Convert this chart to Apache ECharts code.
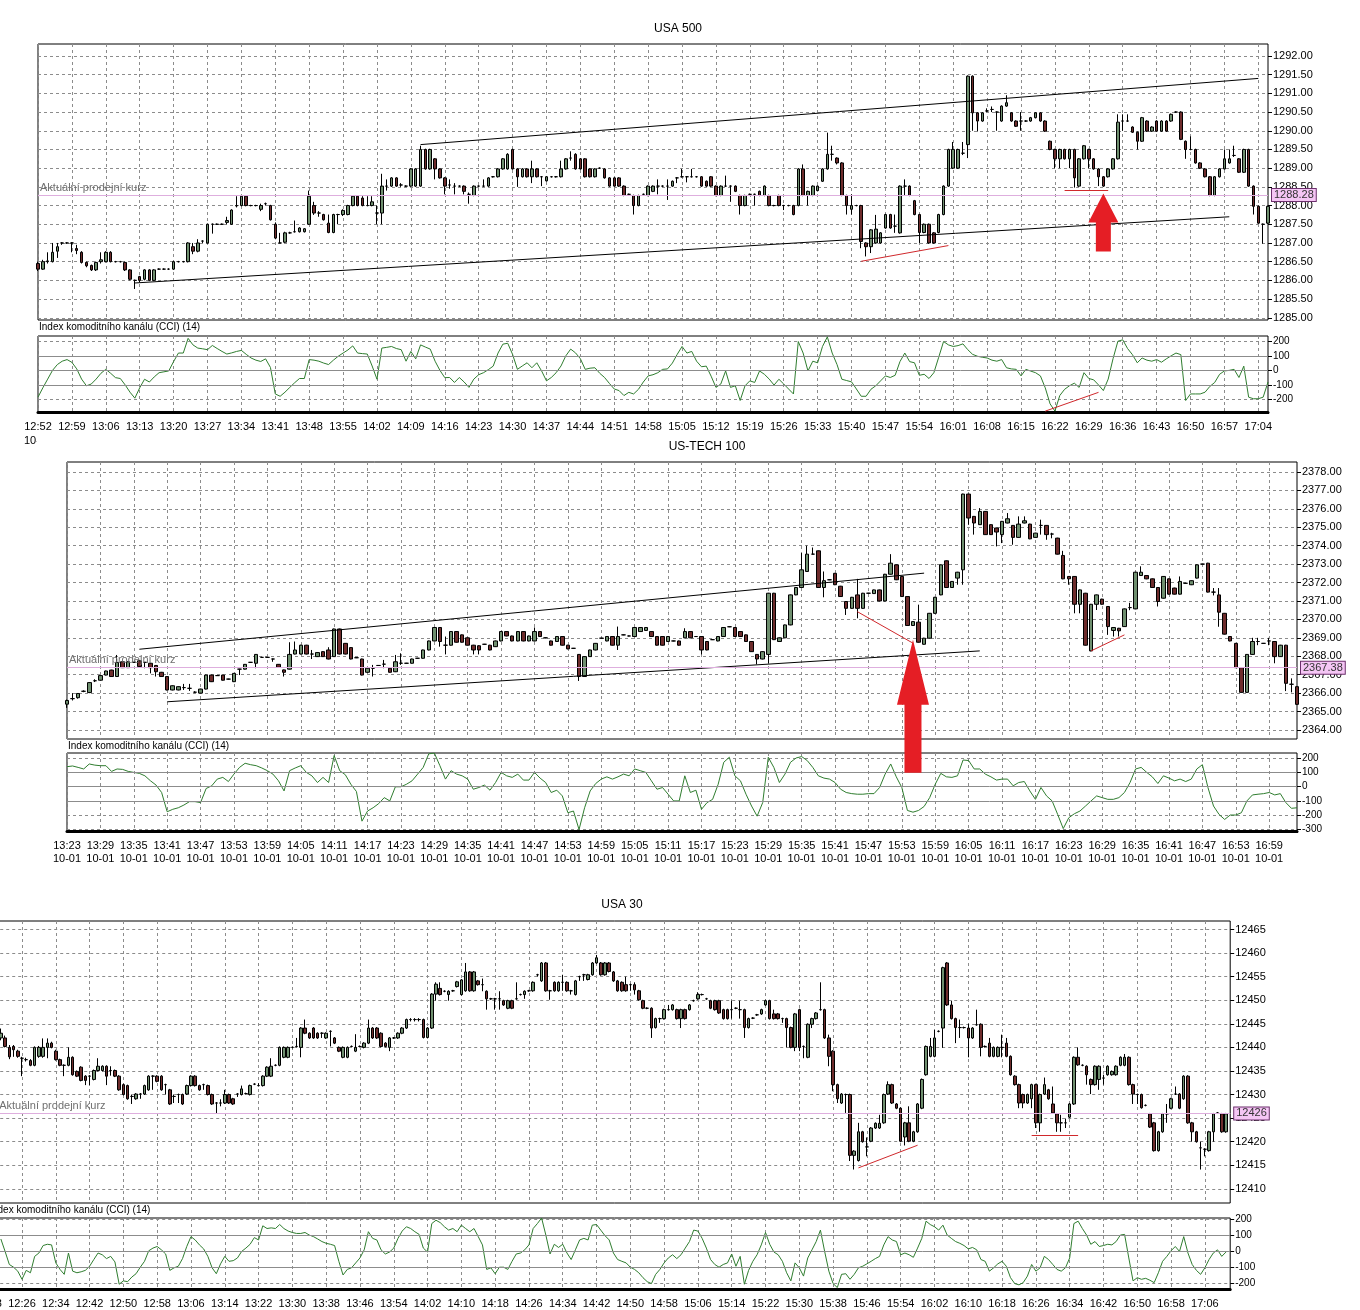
<!DOCTYPE html>
<html>
<head>
<meta charset="utf-8">
<script src="https://cdn.jsdelivr.net/npm/echarts@6/dist/echarts.min.js"></script>
<style>
  html, body { margin: 0; padding: 0; background: #fff; }
  #chart { width: 1360px; height: 1310px; }
</style>
</head>
<body>
<div id="chart"></div>
<script>
// candles are [open, close, low, high], one per minute

// ---- USA 500, 12:52 .. 17:06 ----
const usa500Candles = [
  [1286.45,1286.3,1286.25,1286.5],[1286.3,1286.5,1286.28,1286.55],[1286.5,1286.52,1286.45,1286.75],[1286.5,1286.75,1286.48,1287],[1286.78,1286.9,1286.6,1287],
  [1287,1287,1286.95,1287.02],[1287,1287,1286.98,1287.02],[1287,1287,1286.75,1287.02],[1286.85,1286.8,1286.7,1286.95],[1286.75,1286.48,1286.45,1286.78],
  [1286.48,1286.39,1286.35,1286.5],[1286.4,1286.28,1286.25,1286.42],[1286.28,1286.48,1286.25,1286.5],[1286.5,1286.55,1286.45,1286.75],[1286.5,1286.75,1286.48,1286.78],
  [1286.75,1286.5,1286.48,1286.78],[1286.5,1286.5,1286.48,1286.52],[1286.5,1286.5,1286.48,1286.52],[1286.48,1286.28,1286.25,1286.5],[1286.28,1286.03,1286,1286.3],
  [1286,1286,1285.77,1286.02],[1286.1,1286,1285.95,1286.12],[1286.03,1286.28,1286,1286.3],[1286.28,1286,1285.98,1286.3],[1286,1286.28,1285.98,1286.3],
  [1286.3,1286.3,1286.28,1286.32],[1286.3,1286.3,1286.28,1286.32],[1286.3,1286.3,1286.28,1286.32],[1286.3,1286.5,1286.28,1286.52],[1286.5,1286.5,1286.48,1286.52],
  [1286.5,1286.5,1286.48,1286.52],[1286.5,1287,1286.48,1287.02],[1286.9,1286.78,1286.7,1287],[1286.78,1287,1286.75,1287.1],[1287.05,1287.05,1287,1287.07],
  [1287,1287.5,1286.98,1287.52],[1287.5,1287.5,1287.25,1287.52],[1287.5,1287.5,1287.48,1287.52],[1287.5,1287.5,1287.48,1287.52],[1287.55,1287.6,1287.5,1287.7],
  [1287.5,1287.88,1287.48,1287.9],[1288,1287.99,1287.95,1288.25],[1288,1288.25,1287.98,1288.27],[1288.25,1288,1287.98,1288.27],[1288,1288,1287.98,1288.02],
  [1288,1288,1287.98,1288.02],[1287.9,1288,1287.85,1288.05],[1288.05,1288.05,1288,1288.08],[1288,1287.62,1287.6,1288.02],[1287.5,1287.13,1287.1,1287.55],
  [1287,1287,1287,1287.27],[1287.02,1287.27,1287,1287.3],[1287.27,1287.27,1287.25,1287.3],[1287.3,1287.3,1287.28,1287.6],[1287.3,1287.4,1287.28,1287.42],
  [1287.3,1287.38,1287.28,1287.4],[1287.5,1288.25,1287.48,1288.4],[1288,1287.8,1287.75,1288.1],[1287.8,1287.8,1287.7,1287.85],[1287.76,1287.62,1287.6,1287.78],
  [1287.53,1287.28,1287.26,1287.76],[1287.28,1287.76,1287.26,1287.78],[1287.76,1287.76,1287.5,1287.78],[1287.76,1287.87,1287.72,1287.9],[1287.76,1288,1287.74,1288.02],
  [1288,1288.25,1287.98,1288.27],[1288.25,1288,1287.98,1288.27],[1288.2,1288,1287.98,1288.25],[1288,1288,1287.98,1288.25],[1288,1288.1,1287.98,1288.25],
  [1287.8,1287.8,1287.5,1288],[1287.8,1288.52,1287.5,1288.85],[1288.52,1288.52,1288.4,1288.7],[1288.52,1288.74,1288.5,1288.76],[1288.74,1288.52,1288.5,1288.76],
  [1288.55,1288.55,1288.5,1288.6],[1288.52,1288.52,1288.5,1288.54],[1288.52,1288.98,1288.5,1289],[1288.52,1288.98,1288.5,1289],[1288.52,1289.5,1288.5,1289.6],
  [1289.5,1288.98,1288.96,1289.52],[1288.98,1289.5,1288.96,1289.52],[1289.25,1288.98,1288.7,1289.27],[1288.98,1288.74,1288.72,1289],[1288.74,1288.52,1288.3,1288.76],
  [1288.55,1288.55,1288.45,1288.7],[1288.52,1288.52,1288.3,1288.6],[1288.52,1288.52,1288.5,1288.54],[1288.52,1288.38,1288.3,1288.54],[1288.3,1288.3,1288.05,1288.35],
  [1288.27,1288.52,1288.25,1288.54],[1288.52,1288.52,1288.5,1288.54],[1288.52,1288.52,1288.5,1288.7],[1288.52,1288.74,1288.5,1288.76],[1288.77,1288.77,1288.75,1288.79],
  [1288.77,1288.98,1288.75,1289],[1288.98,1289.25,1288.96,1289.27],[1288.98,1289.37,1288.96,1289.4],[1289.5,1288.98,1288.96,1289.52],[1288.98,1288.77,1288.5,1289],
  [1288.77,1288.98,1288.75,1289],[1288.98,1288.77,1288.75,1289],[1288.77,1288.98,1288.6,1289.2],[1288.98,1288.77,1288.75,1289],[1288.77,1288.77,1288.52,1288.79],
  [1288.66,1288.77,1288.64,1288.79],[1288.77,1288.77,1288.75,1288.79],[1288.77,1288.77,1288.75,1288.79],[1288.77,1288.98,1288.75,1289.2],[1288.98,1289.25,1288.96,1289.27],
  [1289.27,1289.27,1289.2,1289.45],[1289.37,1288.98,1288.96,1289.4],[1289.25,1288.98,1288.96,1289.27],[1289.25,1288.77,1288.75,1289.27],[1288.98,1288.77,1288.75,1289],
  [1288.77,1288.98,1288.75,1289],[1289,1289,1288.98,1289.02],[1288.98,1288.74,1288.72,1289],[1288.74,1288.52,1288.5,1288.76],[1288.74,1288.52,1288.5,1288.76],
  [1288.74,1288.52,1288.5,1288.76],[1288.52,1288.27,1288.25,1288.54],[1288.3,1288.3,1288.28,1288.32],[1288.27,1288,1287.76,1288.29],[1288,1288.27,1287.98,1288.29],
  [1288.3,1288.3,1288.28,1288.32],[1288.27,1288.52,1288.25,1288.54],[1288.38,1288.52,1288.36,1288.54],[1288.52,1288.52,1288.3,1288.7],[1288.52,1288.52,1288.5,1288.54],
  [1288.52,1288.52,1288.15,1288.7],[1288.52,1288.65,1288.5,1288.67],[1288.74,1288.74,1288.6,1288.76],[1288.77,1288.77,1288.75,1288.98],[1288.77,1288.77,1288.62,1288.79],
  [1288.77,1288.77,1288.75,1288.98],[1288.77,1288.77,1288.75,1288.79],[1288.77,1288.52,1288.5,1288.79],[1288.65,1288.52,1288.5,1288.67],[1288.77,1288.52,1288.5,1288.79],
  [1288.52,1288.27,1288.25,1288.54],[1288.27,1288.52,1288.25,1288.54],[1288.52,1288.52,1288.5,1288.8],[1288.52,1288.52,1288.1,1288.54],[1288.52,1288.38,1288.36,1288.54],
  [1288.27,1288,1287.76,1288.29],[1288,1288.27,1287.98,1288.29],[1288.3,1288.3,1288.28,1288.32],[1288.3,1288.3,1288,1288.32],[1288.38,1288.27,1288.25,1288.4],
  [1288.27,1288.52,1288.25,1288.54],[1288.27,1288,1287.98,1288.29],[1288,1288,1287.98,1288.02],[1288.27,1288,1287.98,1288.29],[1288,1288,1287.88,1288.02],
  [1288,1288,1287.98,1288.02],[1288,1287.76,1287.74,1288.02],[1288,1288.98,1287.98,1289],[1288.98,1288.27,1288.25,1289.1],[1288.27,1288.38,1288,1288.4],
  [1288.27,1288.52,1288.25,1288.54],[1288.4,1288.52,1288.38,1288.54],[1288.65,1288.98,1288.63,1289],[1288.98,1289.37,1288.96,1289.95],[1289.37,1289.37,1289.2,1289.6],
  [1289.27,1289.14,1289.1,1289.29],[1289.14,1288.27,1288.25,1289.16],[1288.27,1288,1287.76,1288.29],[1287.9,1288,1287.76,1288.3],[1288,1288,1287.98,1288.02],
  [1288,1287.04,1286.86,1288.02],[1287,1286.9,1286.64,1287.02],[1286.9,1287.35,1286.73,1287.37],[1287,1287.37,1286.98,1287.75],[1287,1287.27,1286.98,1287.29],
  [1287.4,1287.76,1287.38,1287.78],[1287.76,1287.4,1287.38,1287.78],[1287.45,1287.45,1287.27,1287.76],[1287.27,1288.52,1287.25,1288.54],[1288.52,1288.52,1288.27,1288.7],
  [1288.52,1288.27,1288.25,1288.54],[1288.13,1287.76,1287.74,1288.15],[1287.76,1287.28,1287,1287.78],[1287.28,1287.5,1287.26,1287.52],[1287.5,1287,1286.98,1287.52],
  [1287.27,1287,1286.98,1287.29],[1287.28,1287.76,1287.26,1287.78],[1287.76,1288.52,1287.74,1288.54],[1288.52,1289.5,1288.5,1289.52],[1289,1289.5,1288.98,1289.7],
  [1289,1289.5,1288.98,1289.52],[1289.4,1289.4,1289.35,1289.7],[1289.63,1291.46,1289.27,1291.48],[1291.46,1290.48,1290,1291.48],[1290.48,1290.26,1289.98,1290.5],
  [1290.26,1290.48,1290.24,1290.5],[1290.53,1290.53,1290.5,1290.6],[1290.57,1290.57,1290.5,1290.65],[1290.5,1290.5,1290,1290.52],[1290.26,1290.66,1290.24,1290.68],
  [1290.66,1290.75,1290.64,1290.95],[1290.48,1290.26,1290.24,1290.5],[1290.26,1290.12,1290.1,1290.28],[1290.26,1290.26,1290,1290.5],[1290.26,1290.26,1290.24,1290.28],
  [1290.26,1290.35,1290.24,1290.37],[1290.35,1290.48,1290.33,1290.5],[1290.48,1290.26,1290.24,1290.5],[1290.26,1289.99,1289.97,1290.28],[1289.72,1289.5,1289.48,1289.74],
  [1289.5,1289.25,1289,1289.52],[1289.25,1289.5,1289,1289.52],[1289.5,1289.25,1289.23,1289.52],[1289.25,1289.5,1289,1289.52],[1289.5,1288.74,1288.48,1289.52],
  [1288.52,1289.25,1288.5,1289.27],[1289.25,1289.6,1289.23,1289.62],[1289.5,1289.25,1289,1289.52],[1289.25,1288.98,1288.96,1289.27],[1288.98,1288.77,1288.52,1289],
  [1288.77,1288.52,1288.5,1288.79],[1288.77,1288.98,1288.75,1289],[1288.98,1289.25,1288.96,1289.27],[1289.25,1290.23,1289.23,1290.44],[1290.26,1290.26,1290,1290.44],
  [1290.26,1290.26,1290.24,1290.44],[1290.1,1289.96,1289.94,1290.12],[1289.96,1289.72,1289.5,1289.98],[1289.72,1290.35,1289.7,1290.37],[1290.26,1289.99,1289.97,1290.28],
  [1289.99,1290.1,1289.97,1290.12],[1290.26,1289.99,1289.97,1290.28],[1289.99,1290.26,1289.97,1290.28],[1290.26,1289.99,1289.97,1290.28],[1290.26,1290.44,1290.24,1290.46],
  [1290.5,1290.5,1290.48,1290.52],[1290.5,1289.77,1289.75,1290.52],[1289.72,1289.5,1289.25,1289.74],[1289.5,1289.5,1289.48,1289.85],[1289.5,1289.14,1289.12,1289.52],
  [1289.14,1289,1288.98,1289.16],[1288.98,1288.77,1288.75,1289],[1288.77,1288.27,1288.25,1288.79],[1288.27,1288.77,1288.25,1288.79],[1288.77,1288.98,1288.75,1289],
  [1288.98,1289.25,1288.96,1289.5],[1289.14,1289.25,1289.12,1289.5],[1289.34,1289.34,1289.3,1289.6],[1289.25,1288.89,1288.87,1289.27],[1288.89,1289.5,1288.87,1289.52],
  [1289.5,1288.52,1288.5,1289.52],[1288.52,1287.98,1287.76,1288.54],[1287.98,1287.53,1287.51,1288],[1287.5,1287.5,1286.98,1287.52],[1287.53,1287.98,1287.51,1288]
];
const usa500Cci = [
  -184,-120,-60,0,40,63,74,55,10,-60, -106,-94,-60,-20,7,-20,-50,-56,-100,-150,
  -191,-120,-61,-80,-45,-16,-10,-4,60,119, 119,220,175,153,148,142,171,150,130,112,
  120,130,137,110,85,70,61,79,20,-162, -178,-150,-117,-85,-56,-56,74,70,63,50,
  40,70,97,119,140,168,119,115,112,30, -61,153,158,164,150,142,63,130,79,175,
  160,146,63,0,-50,-49,-83,-49,-80,-117, -60,-30,-16,5,29,119,180,186,110,7,
  30,52,18,52,-4,-72,-49,-16,30,100, 146,120,80,7,15,18,-20,-49,-90,-128,
  -139,-173,-151,-162,-130,-80,-38,-30,-16,7, 10,50,110,164,119,130,63,25,29,-40,
  -117,-94,-4,-117,-106,-207,-106,-72,-83,-4, -27,-60,-101,-61,-94,-128,-162,198,119,-4,
  63,52,164,230,119,40,-61,-70,-79,-128, -178,-178,-130,-106,-72,-38,-49,-34,60,119,
  60,52,-34,-27,-56,-16,90,198,175,164, 170,182,142,110,97,90,85,70,63,74,
  18,10,7,-38,7,-5,-16,-38,-120,-230, -280,-173,-130,-106,-88,-117,-16,-56,-65,-100,
  -139,-60,80,200,210,150,108,52,85,70, 63,74,56,79,100,119,108,-207,-162,-162,
  -162,-150,-110,-83,-27,-4,0,7,-49,29, -184,-195,-195,-184,-80
];
const usa500Ticks = [1285,1285.5,1286,1286.5,1287,1287.5,1288,1288.5,1289,1289.5,1290,1290.5,1291,1291.5,1292];
const usa500Price = 1288.28;
// [fromIndex, fromValue, toIndex, toValue]
const usa500Channel = [[79,1289.63,252,1291.4],[20,1285.93,246,1287.7]];
const usa500RedLines = [[170,1286.51,188,1286.93],[212,1288.4,221,1288.4]];
const usa500CciRed = [[208,-280,219,-151]];
const usa500Arrow = [220, 1288.32];

// ---- US-TECH 100, 13:23 .. 17:04 ----
const techCandles = [
  [2365.4,2365.6,2365.2,2365.65],[2365.7,2365.7,2365.6,2366],[2365.75,2365.98,2365.7,2366],[2366.1,2366.1,2366.05,2366.15],[2366.03,2366.57,2366,2366.6],
  [2366.67,2366.67,2366.6,2366.75],[2366.7,2366.95,2366.68,2366.97],[2366.98,2367.2,2366.96,2367.22],[2367.25,2366.9,2366.88,2367.27],[2366.9,2367.67,2366.88,2368.07],
  [2367.7,2367.38,2367.36,2367.72],[2367.38,2367.7,2367.36,2367.72],[2367.67,2367.67,2367.65,2367.69],[2367.75,2367.44,2367.42,2367.77],[2367.67,2367.67,2367.35,2367.69],
  [2367.62,2367.38,2367.07,2367.64],[2367.5,2367.16,2366.9,2367.52],[2367.13,2366.9,2366.88,2367.15],[2366.9,2366.17,2366.15,2366.92],[2366.17,2366.4,2366.15,2366.42],
  [2366.17,2366.35,2366.15,2366.37],[2366.3,2366.3,2366.17,2366.5],[2366.26,2366.26,2366.12,2366.5],[2366.05,2366.05,2366,2366.1],[2366,2366.22,2365.98,2366.24],
  [2366.22,2366.98,2366.2,2367],[2366.98,2366.62,2366.6,2367],[2366.95,2366.95,2366.93,2366.97],[2366.98,2366.7,2366.68,2367],[2366.76,2366.76,2366.74,2366.78],
  [2366.62,2367.07,2366.6,2367.09],[2367.3,2367.3,2366.98,2367.32],[2367.3,2367.56,2367.28,2367.58],[2367.67,2367.67,2367.65,2367.69],[2367.62,2368.1,2367.35,2368.12],
  [2367.94,2367.94,2367.92,2367.96],[2367.94,2367.94,2367.92,2367.96],[2367.85,2367.85,2367.7,2367.87],[2367.56,2367.4,2367.38,2367.58],[2367.26,2367.13,2366.9,2367.28],
  [2367.3,2368.1,2367.28,2368.76],[2368.12,2368.34,2368.1,2368.8],[2368.12,2368.6,2368.1,2368.62],[2368.6,2368.12,2368.1,2368.62],[2368.12,2368.12,2367.85,2368.34],
  [2367.98,2368.2,2367.96,2368.22],[2368.25,2367.98,2367.96,2368.27],[2368.34,2367.85,2367.83,2368.49],[2367.98,2369.48,2367.96,2369.5],[2369.48,2368.12,2368.1,2369.5],
  [2368.7,2368.12,2368.1,2368.72],[2368.47,2367.85,2367.83,2368.49],[2367.92,2367.92,2367.9,2367.94],[2367.85,2366.98,2366.96,2367.87],[2367.13,2367.35,2367.11,2367.37],
  [2367.35,2367.35,2366.9,2367.53],[2367.5,2367.5,2367.48,2367.52],[2367.57,2367.57,2367.35,2367.8],[2367.35,2367.13,2367.11,2367.37],[2367.16,2367.7,2367.14,2368.07],
  [2367.62,2367.62,2367.53,2368.16],[2367.62,2367.62,2367.6,2367.64],[2367.62,2367.85,2367.6,2367.87],[2367.89,2367.89,2367.87,2367.91],[2367.89,2368.34,2367.87,2368.36],
  [2368.34,2368.83,2368.32,2368.85],[2368.83,2369.56,2368.81,2369.58],[2369.56,2368.8,2368.52,2369.58],[2368.6,2368.6,2368.1,2369.07],[2368.6,2369.34,2368.58,2369.36],
  [2369.34,2368.76,2368.74,2369.36],[2369.16,2368.76,2368.74,2369.18],[2369,2368.6,2368.58,2369.02],[2368.6,2368.34,2368.1,2368.62],[2368.57,2368.34,2368.1,2368.6],
  [2368.65,2368.65,2368.63,2368.67],[2368.6,2368.34,2368.32,2368.62],[2368.52,2368.83,2368.5,2368.85],[2368.83,2369.34,2368.81,2369.36],[2369.34,2369.1,2369.08,2369.36],
  [2369.1,2368.83,2368.81,2369.12],[2368.83,2369.34,2368.81,2369.36],[2369.34,2368.83,2368.81,2369.36],[2368.83,2369.1,2368.81,2369.12],[2368.83,2369.34,2368.81,2369.56],
  [2369.34,2369.07,2369.05,2369.36],[2369,2369,2368.98,2369.02],[2368.83,2368.6,2368.58,2368.85],[2368.8,2369.07,2368.78,2369.09],[2369.07,2368.6,2368.58,2369.09],
  [2368.6,2368.4,2368.38,2368.62],[2368.43,2368.43,2368.41,2368.45],[2368.1,2366.9,2366.66,2368.12],[2366.9,2367.98,2366.88,2368],[2367.98,2368.34,2367.96,2368.36],
  [2368.34,2368.7,2368.32,2368.72],[2368.98,2368.98,2368.96,2369],[2368.83,2369.07,2368.81,2369.09],[2369.07,2368.6,2368.58,2369.09],[2368.6,2369.07,2368.34,2369.61],
  [2369.16,2369.16,2369.14,2369.18],[2369.1,2369.1,2369.08,2369.12],[2369.07,2369.56,2369.05,2369.58],[2369.34,2369.56,2369.32,2369.58],[2369.4,2369.56,2369.38,2369.58],
  [2369.34,2369.07,2369.05,2369.36],[2369.07,2368.6,2368.58,2369.09],[2369.07,2368.6,2368.58,2369.09],[2368.8,2369.07,2368.78,2369.09],[2368.83,2368.83,2368.81,2368.85],
  [2368.83,2368.6,2368.58,2368.85],[2369,2369.34,2368.98,2369.52],[2369.34,2369,2368.98,2369.36],[2369.07,2369.07,2369.05,2369.09],[2369.07,2368.34,2368.1,2369.09],
  [2368.8,2368.34,2368.32,2368.82],[2368.9,2368.9,2368.88,2368.92],[2368.83,2369.07,2368.81,2369.09],[2369.07,2369.56,2369.05,2369.58],[2369.6,2369.6,2369.58,2369.62],
  [2369.56,2369.07,2369.05,2369.58],[2369.34,2369.07,2369.05,2369.36],[2369.16,2368.8,2368.78,2369.18],[2368.8,2368.25,2368.23,2368.82],[2368.1,2367.85,2367.56,2368.12],
  [2367.85,2368.25,2367.83,2368.27],[2368.1,2371.42,2367.6,2371.44],[2371.42,2368.9,2368.88,2371.44],[2368.8,2369,2368.78,2369.02],[2369,2369.7,2368.98,2369.72],
  [2369.7,2371.33,2369.68,2371.35],[2371.33,2371.73,2371.31,2371.75],[2371.73,2372.69,2371.71,2373.6],[2372.6,2373.54,2372.58,2374],[2373.54,2373.54,2373.52,2373.9],
  [2373.72,2371.73,2371.71,2373.74],[2371.73,2372.1,2371.2,2372.6],[2372.15,2372.15,2372.13,2372.17],[2372.5,2371.88,2371.86,2372.52],[2371.8,2371.24,2371.22,2371.82],
  [2370.97,2370.6,2370.24,2370.99],[2370.6,2371.2,2370.58,2371.22],[2371.33,2370.6,2370.06,2372.2],[2370.6,2371.42,2370.58,2371.44],[2371.42,2371.42,2371.4,2371.44],
  [2371.4,2371.6,2371.38,2371.62],[2371.6,2371,2370.98,2371.62],[2371,2372.45,2370.98,2372.47],[2372.45,2373.05,2372.43,2373.54],[2372.96,2372.15,2372.13,2372.98],
  [2372.33,2371.24,2371.22,2372.35],[2371.24,2369.67,2369.65,2371.26],[2369.67,2369.88,2369.65,2369.9],[2369.85,2368.76,2368.74,2370.8],[2368.65,2368.98,2368.63,2369],
  [2368.98,2370.33,2368.96,2370.35],[2370.33,2371.2,2370.31,2371.22],[2371.33,2372.96,2371.31,2372.98],[2373.18,2371.73,2371.71,2373.2],[2371.73,2372.06,2371.71,2372.08],
  [2372.24,2372.56,2371.88,2372.58],[2372.69,2376.8,2371.88,2376.82],[2376.8,2375.5,2375.14,2376.82],[2375.59,2375.23,2374.6,2375.61],[2375.14,2375.86,2375.12,2376.04],
  [2375.86,2374.6,2374.58,2375.88],[2375.14,2374.6,2374.58,2375.16],[2374.96,2374.74,2373.96,2374.98],[2374.6,2375.32,2374.14,2375.34],[2375.23,2375.46,2375.21,2375.77],
  [2375.1,2374.45,2374.05,2375.12],[2374.45,2375.17,2374.43,2375.59],[2375.23,2375.35,2375.21,2375.59],[2375.17,2374.37,2374.35,2375.19],[2374.45,2374.68,2374.43,2374.7],
  [2375.1,2375.1,2374.6,2375.41],[2375.1,2374.6,2374.32,2375.12],[2374.63,2374.63,2374.4,2374.7],[2374.41,2373.54,2373.52,2374.43],[2373.47,2372.2,2372.18,2373.72],
  [2372.33,2372.2,2371.88,2372.35],[2372.33,2370.82,2370.33,2372.35],[2370.82,2371.6,2370.33,2371.62],[2371.42,2368.6,2368.58,2371.44],[2368.29,2370.82,2368.27,2370.84],
  [2370.82,2371.33,2370.51,2371.35],[2371.1,2370.82,2370.8,2371.12],[2370.7,2369.61,2369.16,2370.72],[2369.4,2369.56,2369.07,2369.58],[2369.52,2369.38,2369.07,2369.54],
  [2369.61,2370.57,2369.59,2370.59],[2370.64,2370.64,2370.5,2370.9],[2370.57,2372.56,2370.55,2372.58],[2372.38,2372.56,2372.36,2372.88],[2372.38,2372.2,2372.18,2372.4],
  [2372.2,2371.73,2371.71,2372.22],[2371.73,2370.97,2370.7,2371.75],[2371.15,2372.33,2371.13,2372.35],[2372.2,2371.37,2371.35,2372.22],[2371.7,2371.37,2371.35,2371.72],
  [2371.37,2372.06,2371.35,2372.33],[2371.96,2371.96,2371.94,2371.98],[2371.88,2372.1,2371.86,2372.12],[2372.24,2372.96,2372.22,2372.98],[2373,2373,2372.98,2373.02],
  [2373.05,2371.48,2371.46,2373.07],[2371.48,2371.48,2371.3,2371.7],[2371.33,2370.39,2369.6,2371.7],[2370.33,2369.2,2369.18,2370.35],[2369.07,2368.83,2368.81,2369.09],
  [2368.7,2367.38,2367.36,2368.72],[2367.38,2366.04,2366.02,2367.4],[2366.04,2368.1,2366.02,2368.12],[2368.1,2368.8,2368.08,2369],[2368.8,2368.8,2368.6,2369],
  [2368.7,2368.7,2368.68,2368.72],[2368.83,2368.83,2368.6,2369],[2368.8,2367.98,2367.62,2368.82],[2367.98,2368.6,2367.96,2368.62],[2368.6,2366.53,2366.11,2368.62],
  [2366.48,2366.48,2366.04,2366.8],[2366.35,2365.39,2365.37,2366.37]
];
const techCci = [
  139,144,134,123,158,150,146,146,106,123, 120,106,99,92,75,40,10,-42,-177,-160,
  -149,-130,-106,-106,-113,-14,5,52,64,35, 87,134,163,153,146,130,111,87,40,-31,
  111,130,146,99,75,28,64,28,217,111, 83,16,-35,-243,-172,-149,-120,-78,-101,-2,
  -2,16,40,87,134,229,235,146,52,111, 87,75,52,-19,-7,10,-26,28,99,75,
  64,87,45,45,99,59,28,-42,-26,-66, -184,-172,-302,-149,-31,21,52,68,52,68,
  87,75,123,111,99,40,-19,-7,-54,-101, -101,75,-42,-26,-160,-113,-90,16,170,205,
  75,40,-54,-137,-208,-113,205,134,28,87, 170,200,210,182,134,75,59,52,28,-19,
  -42,-50,-54,-54,-50,-50,-7,87,158,68, -7,-168,-180,-168,-140,-78,16,92,68,64,
  75,186,182,123,123,87,68,45,52,52, 5,28,35,-31,-90,-7,-66,-101,-196,-295,
  -219,-191,-172,-137,-101,-66,-78,-90,-90,-78, -42,28,123,134,99,68,21,75,59,40,
  52,35,52,123,153,-7,-137,-196,-231,-200, -200,-184,-101,-59,-54,-50,-42,-59,-50,-113,
  -153,-149
];
const techTicks = [2364,2365,2366,2367,2368,2369,2370,2371,2372,2373,2374,2375,2376,2377,2378];
const techPrice = 2367.38;
const techChannel = [[13,2368.38,154,2372.51],[18,2365.53,164,2368.29]];
const techRedLines = [[142,2370.42,152,2368.71],[184,2368.29,190,2369.16]];
const techArrow = [152, 2368.89];

// ---- USA 30, 12:18 .. 17:12 ----
const usa30Candles = [
  null,null,null,
  [12442,12443,12441.5,12444],[12442,12440.2,12440,12442.5],[12440,12438,12437.5,12440.5],[12440.2,12439.5,12438,12440.5],[12439.2,12438.1,12437.8,12439.5],
  [12437.7,12437.7,12433.9,12438],[12437.4,12437.4,12437,12437.8],[12437.2,12436.2,12436,12437.5],[12436.2,12440,12436,12440.2],[12438.1,12440,12437.8,12440.3],
  [12438.1,12440,12437.8,12441.9],[12440,12440.9,12437.7,12441.9],[12440.9,12440,12439.8,12441.2],[12439.2,12437.4,12437.2,12439.5],[12437.4,12436.2,12436,12437.6],
  [12436.2,12436.2,12433.9,12436.4],[12436.2,12437.9,12436,12440],[12437.9,12434.2,12434,12438.1],[12434.9,12433.9,12433.7,12435.1],[12435.8,12433,12432.8,12436],
  [12433.9,12433,12432,12434.1],[12433.9,12433.9,12432,12434.1],[12433.2,12435.1,12433,12435.3],[12435.1,12436,12434.9,12437.7],[12435.1,12436,12434.9,12436.2],
  [12436,12433.9,12432,12436.2],[12435.1,12435.1,12434,12436],[12435.1,12433.9,12433.7,12435.3],[12433.9,12431,12430.8,12434.1],[12432.1,12430,12429.8,12432.3],
  [12431.9,12429.1,12428.9,12432.1],[12429.6,12429.6,12428,12430],[12429.1,12430.1,12428.9,12430.3],[12430.1,12430.1,12429.1,12430.3],[12430.1,12431.9,12429.9,12432.1],
  [12431,12433.9,12430.8,12434.1],[12433.9,12433.9,12431,12434.1],[12433.9,12432.8,12432.6,12434.1],[12433.9,12431,12430.8,12434.1],[12432.1,12432.1,12430,12432.3],
  [12431,12428,12427.8,12431.2],[12429.6,12429.6,12428.2,12430],[12430,12430,12428.2,12430.2],[12430,12428,12427.8,12430.2],[12430.1,12431.9,12429.9,12432.1],
  [12431.9,12433.9,12431.7,12434.1],[12433.9,12431.9,12431.7,12434.1],[12431.9,12431,12430.8,12432.1],[12432.1,12432.1,12431,12432.3],[12431.9,12430,12429.8,12432.1],
  [12430,12428,12427.8,12430.2],[12428.2,12428.2,12425.9,12428.4],[12428.2,12428.2,12427.5,12429],[12428.2,12430,12428,12431],[12430,12428.2,12428,12430.2],
  [12429.1,12428,12427.8,12429.3],[12430.1,12430.1,12429.5,12430.3],[12430,12431.2,12429.8,12431.9],[12430.2,12430.2,12430,12430.4],[12430,12431.9,12429.8,12432.1],
  [12432.2,12432.2,12432,12432.4],[12431.9,12431.9,12431.7,12432.4],[12431.9,12433.9,12431.7,12434.1],[12433.9,12435.8,12433.7,12436],[12433.9,12436,12433.7,12437.7],
  [12436.2,12436.2,12436,12436.4],[12436.2,12440,12436,12440.2],[12437.9,12440,12437.7,12440.2],[12437.9,12440,12437.7,12440.2],[12440,12440,12439.8,12440.2],
  [12440.2,12440.2,12440,12442],[12440,12444.1,12437.9,12444.3],[12444.1,12443,12442.8,12445.9],[12443,12442,12441.8,12443.2],[12444.1,12442,12441.8,12444.3],
  [12443,12442,12441.8,12443.2],[12443,12443,12442,12443.2],[12442,12443,12441.8,12443.2],[12443.4,12443.4,12440.2,12443.6],[12442,12440.9,12440.7,12442.2],
  [12440,12439.2,12439,12440.2],[12437.9,12440,12437.7,12440.2],[12437.9,12440,12437.7,12440.2],[12440.2,12440.2,12440,12440.4],[12439.2,12440,12439,12442.8],
  [12440.2,12440.2,12440,12440.4],[12440,12440.9,12439.8,12441.1],[12440.9,12444.1,12440.7,12445.9],[12444.1,12442,12441.8,12444.3],[12444.1,12442,12441.8,12444.3],
  [12443,12440.2,12440,12443.2],[12440.9,12440.2,12440,12441.1],[12440,12442,12439.2,12442.2],[12442,12442,12441.8,12442.2],[12442,12443,12441.8,12443.2],
  [12443,12444.1,12442.8,12444.3],[12444.1,12445.9,12443.9,12446.1],[12445.9,12445.9,12445.5,12446.2],[12445.9,12445.9,12445.5,12446.2],[12445.9,12445.9,12445.5,12446.2],
  [12445.9,12442.1,12441.9,12446.1],[12442.1,12444.1,12441.9,12444.3],[12444.1,12451.3,12443.9,12451.5],[12451.3,12453.4,12449.9,12453.8],[12452.5,12451.2,12451,12453.8],
  [12451.9,12451.9,12451.7,12452.1],[12451.2,12451.9,12449.9,12452.1],[12452,12452,12451.8,12452.2],[12452.9,12453.9,12452.7,12454.1],[12451.2,12454.3,12451,12454.5],
  [12452,12456,12451.8,12457.9],[12456,12452,12451.8,12456.2],[12452,12456,12451.8,12456.2],[12454.1,12453.3,12453.1,12454.3],[12453.3,12453.3,12451.9,12454.6],
  [12451.9,12450.3,12448,12452.1],[12450.3,12450.3,12450.1,12450.5],[12450.3,12450.3,12448,12450.5],[12450.3,12450.3,12448,12451.9],[12449.9,12449,12448.8,12450.1],
  [12448.3,12449.9,12448.1,12450.1],[12449.9,12448.3,12448.1,12450.1],[12450.3,12450.3,12450.1,12453.8],[12451.2,12451.2,12451,12451.4],[12451.2,12451.9,12450.3,12452.1],
  [12452,12452,12451.8,12452.2],[12452,12453.8,12451.8,12454],[12455.4,12455.4,12455,12455.6],[12454.1,12457.9,12453.9,12458.1],[12457.9,12452,12451.8,12458.1],
  [12452,12452,12450.1,12452.2],[12453.8,12452,12451.8,12454],[12452,12453.8,12451.8,12454],[12453.8,12453.8,12452,12455.4],[12453.8,12452,12451.8,12454],
  [12452,12452,12451.2,12452.2],[12451.2,12454.1,12451,12454.3],[12455,12455,12454.1,12455.2],[12455.4,12455.4,12454.1,12455.6],[12454.4,12455.4,12454.2,12455.6],
  [12455.4,12457.9,12455.2,12458.1],[12457.9,12459,12457.7,12459.6],[12457.9,12455.4,12455.2,12458.1],[12455.4,12457.9,12455.2,12458.1],[12457.9,12456.1,12455.9,12458.1],
  [12456,12454.1,12453.9,12456.2],[12454.1,12452,12451.8,12454.3],[12453.8,12452,12451.8,12454],[12453.3,12452,12451.8,12455],[12453.3,12453.3,12452,12453.5],
  [12453.3,12452.2,12451.2,12453.8],[12452,12450.1,12449.9,12452.2],[12449.9,12448.3,12448.1,12450.1],[12448.3,12448.3,12448.1,12448.5],[12448.3,12444.1,12442,12448.5],
  [12444.2,12446.1,12444,12446.3],[12446.1,12446.1,12445.2,12446.3],[12446.1,12448,12445.9,12448.2],[12448,12448,12447.8,12449],[12448,12449,12447.8,12449.2],
  [12448,12446.1,12445.9,12448.2],[12446.1,12448,12444.1,12448.2],[12448,12446.1,12445.9,12448.2],[12448,12449,12447.8,12449.2],[12449.9,12449.9,12449.7,12450.1],
  [12450.3,12451.2,12450.1,12451.7],[12451.2,12451.2,12451,12451.4],[12450.3,12450.3,12450.1,12450.5],[12449.9,12448.3,12448.1,12450.1],[12449.9,12448,12447.8,12450.1],
  [12449.9,12447.3,12447.1,12450.1],[12448,12446.1,12445.9,12448.2],[12448,12446.1,12445.9,12448.2],[12448,12448,12446.1,12449.9],[12448.3,12448.3,12448.1,12448.5],
  [12448,12448,12446.1,12449.9],[12448,12444.2,12442,12448.2],[12444.2,12446.1,12444,12446.3],[12446.2,12446.2,12446,12446.4],[12446.9,12446.9,12446.7,12447.1],
  [12447.1,12448,12446.9,12448.2],[12449,12449.9,12448.8,12450.1],[12449.9,12446.1,12445.9,12450.1],[12447.1,12446.1,12445.9,12448],[12447.1,12446.1,12445.9,12447.3],
  [12446.1,12446.1,12445.2,12446.3],[12446.1,12444.2,12440,12446.3],[12444.2,12440,12439.8,12444.4],[12440,12447.1,12439.2,12447.3],[12448,12440,12439.2,12448.2],
  [12440.2,12440.2,12437.7,12440.4],[12437.9,12444.9,12437.7,12445.1],[12444.9,12446.1,12444.1,12446.3],[12446.1,12447.3,12445.9,12447.5],[12448,12448,12447.8,12453.8],
  [12448,12442,12441.8,12448.2],[12442,12438.1,12436,12442.7],[12439.2,12432.1,12430.7,12439.4],[12432.1,12429.1,12428.2,12432.3],[12428.2,12430.1,12428,12430.3],
  [12430,12430,12426.1,12430.2],[12430,12417.1,12415.9,12430.2],[12417.1,12418,12414.1,12418.2],[12416,12422.1,12415.8,12424],[12422.1,12420,12419.8,12422.3],
  [12418.9,12418.9,12416.9,12420.9],[12420.1,12422.9,12419.9,12423.1],[12422.9,12423.9,12422.7,12424.1],[12422.9,12423.9,12422.7,12425.7],[12424,12430,12423.8,12430.2],
  [12430.1,12432.1,12429.9,12432.8],[12432.1,12428.2,12428,12432.3],[12428,12427.1,12426.9,12428.2],[12427.1,12420.1,12419.9,12427.3],[12421,12424,12419.2,12424.2],
  [12424,12420.1,12419.9,12427.5],[12420.1,12422.1,12419.9,12422.3],[12422.1,12428,12421.9,12428.2],[12427.1,12433.2,12426.9,12433.4],[12434.2,12440.2,12434,12440.4],
  [12438.1,12440.2,12437.9,12442],[12438.1,12442,12437.9,12443.7],[12443.4,12443.4,12443.2,12443.6],[12444.1,12456.9,12439.9,12457.1],[12457.9,12449,12448.8,12458.1],
  [12449,12446.1,12445.9,12449.9],[12446.1,12444.2,12440.9,12446.3],[12444.2,12444.2,12442,12445.9],[12444.2,12444.2,12444,12444.4],[12444.1,12442,12437.9,12445],
  [12442,12444.1,12441.8,12444.3],[12444.8,12444.8,12444.6,12448],[12444.9,12440,12438.1,12445.1],[12440.2,12440.2,12440,12440.4],[12440.9,12438.1,12437.9,12442],
  [12438.1,12440,12437.9,12440.2],[12438.1,12440,12437.9,12440.2],[12440,12440,12437.9,12442.7],[12440.9,12438.1,12437.9,12442],[12438.1,12434.2,12434,12438.3],
  [12433.9,12432.1,12431.9,12434.1],[12432.1,12428.2,12427.1,12432.3],[12430,12428.2,12427.1,12430.2],[12428.2,12430,12428,12430.2],[12429.1,12432.1,12427.1,12432.3],
  [12432.1,12424,12422.9,12432.3],[12424,12430,12422.1,12430.2],[12430.1,12432.1,12429.9,12433.6],[12431,12429.1,12428.9,12431.2],[12428,12426.1,12425.9,12431.7],
  [12425.9,12424,12422.1,12426.1],[12424,12424,12422.1,12425.7],[12424,12424,12422.9,12424.9],[12425.2,12428,12425,12428.2],[12428,12437.9,12427.8,12438.1],
  [12437.9,12436.3,12436.1,12440],[12436.2,12436.2,12436,12436.4],[12436,12434.2,12432.1,12436.2],[12433.2,12432.1,12430.1,12433.4],[12432.1,12436,12431.9,12436.2],
  [12433.2,12436,12431,12436.2],[12433.5,12433.5,12432.1,12434.2],[12434.2,12436,12434,12436.2],[12434.2,12434.9,12434,12435.1],[12434.2,12436,12434,12436.2],
  [12436.2,12437.9,12436,12438.1],[12436.2,12437.9,12436,12438.6],[12437.9,12432.1,12431.9,12438.1],[12432.1,12430.1,12428,12432.3],[12430,12430,12428,12430.2],
  [12430,12427.2,12427,12430.2],[12427.7,12427.7,12427.5,12427.9],[12425.9,12423.1,12422.9,12426.1],[12424,12418.1,12417.9,12424.2],[12418.1,12422.1,12417.9,12422.3],
  [12422.1,12425.9,12421.9,12426.1],[12425.9,12425.9,12424,12428],[12427.1,12429.1,12426.9,12429.3],[12430.1,12430.1,12429.9,12431.7],[12430.1,12427.1,12426.9,12430.3],
  [12429.1,12433.9,12428.9,12434.1],[12433.9,12424,12423.8,12434.1],[12424,12422.1,12420,12424.2],[12422.1,12420,12419.8,12422.3],[12418.7,12418.7,12414.1,12420],
  [12418.4,12418.4,12416.9,12418.6],[12418.1,12422.1,12417.9,12422.3],[12422.1,12425.9,12420,12426.1],[12426.1,12426.1,12425.9,12426.3],[12425.9,12422.1,12421.9,12426.1],
  [12422.1,12425.9,12421.9,12426.1],
  null
];
const usa30Cci = [
  null,null,null,78,0,-82,-99,-124,-175,-119, -134,-31,-10,37,45,41,-72,-113,-144,-10,
  -124,-134,-128,-119,-93,-51,-10,-21,-45,-31, -66,-206,-185,-190,-161,-140,-99,-62,4,21,
  31,10,-16,-119,-103,-93,-45,31,93,72, 41,16,-31,-103,-140,-78,-31,-62,-58,-41,
  0,21,45,87,72,161,144,148,144,169, 144,128,119,113,113,119,103,93,78,62,
  51,45,37,-62,-148,-113,-103,-72,-41,10, 124,82,72,10,-16,-4,21,82,128,155,
  144,124,107,21,-4,175,196,181,155,134, 144,124,165,144,124,144,93,41,-113,-103,
  -140,-99,-99,-113,-62,-16,-10,10,41,144, 175,210,103,-16,45,25,45,-10,-51,10,
  72,82,72,165,169,134,99,72,-10,-51, -62,-72,-99,-113,-134,-165,-190,-202,-144,-113,
  -72,-41,-21,-45,-21,21,62,134,128,82, 21,-51,-82,-99,-82,-72,-16,-93,-31,-206,
  -119,-62,-21,41,119,45,-4,-21,-62,-134, -185,-72,-103,-155,-41,10,62,134,0,-124,
  -202,-227,-144,-140,-175,-144,-103,-93,-78,-62, -45,-31,41,93,72,62,-21,-10,-21,-37,
  21,82,190,169,155,134,165,103,82,62, 51,37,16,25,10,-51,-62,-124,-103,-78,
  -62,-93,-165,-202,-210,-196,-155,-82,-124,-103, -31,-51,-82,-113,-124,-103,-41,175,190,144,
  103,45,62,31,37,45,41,62,103,107, -41,-185,-165,-175,-169,-181,-196,-134,-62,-31,
  4,31,0,93,-10,-82,-119,-144,-103,-51, -10,10,-31,-4,null
];
const usa30Ticks = [12410,12415,12420,12425,12430,12435,12440,12445,12450,12455,12460,12465];
const usa30Price = 12426;
const usa30RedLines = [[206,12414.45,220,12419.25],[247,12421.35,258,12421.35]];

const cciTicks = [-200,-100,0,100,200];
const cciTicksWide = [-300,-200,-100,0,100,200];
const cciLevels = [100, 0, -100];

const FONT = '"Liberation Sans", Arial, sans-serif';

function minuteLabels(start, count) {
  const [h, m] = start.split(':').map(Number);
  const out = [];
  for (let i = 0; i < count; i++) {
    const t = h * 60 + m + i;
    out.push(String(Math.floor(t / 60)).padStart(2, '0') + ':' + String(t % 60).padStart(2, '0'));
  }
  return out;
}

const panels = [
  {
    title: 'USA 500', titleX: 678, titleY: 29,
    times: minuteLabels('12:52', usa500Candles.length),
    candles: usa500Candles, cci: usa500Cci,
    left: 38, width: 1230, mainTop: 44, mainHeight: 276, oscTop: 336, oscHeight: 76,
    min: 1284.94, max: 1292.32, ticks: usa500Ticks, decimals: 2,
    cciMin: -286, cciMax: 236, cciTicks: cciTicks,
    every: 7, dateLine: true, lineHeight: 14, barWidth: 3,
    price: usa500Price, kurzPad: 0,
    channel: usa500Channel, red: usa500RedLines, cciRed: usa500CciRed,
    arrow: usa500Arrow, arrowSize: {hw: 15, hh: 29, sw: 7.5, len: 58}
  },
  {
    title: 'US-TECH 100', titleX: 707, titleY: 447,
    times: minuteLabels('13:23', techCandles.length),
    candles: techCandles, cci: techCci,
    left: 67, width: 1230, mainTop: 462, mainHeight: 277, oscTop: 753, oscHeight: 78,
    min: 2363.51, max: 2378.54, ticks: techTicks, decimals: 2,
    cciMin: -312, cciMax: 235, cciTicks: cciTicksWide,
    every: 6, dateLine: true, lineHeight: 13, barWidth: 4,
    price: techPrice, kurzPad: 0,
    channel: techChannel, red: techRedLines, cciRed: [],
    arrow: techArrow, arrowSize: {hw: 16, hh: 65, sw: 8.5, len: 133}
  },
  {
    title: 'USA 30', titleX: 622, titleY: 905,
    times: minuteLabels('12:18', usa30Candles.length),
    candles: usa30Candles, cci: usa30Cci,
    left: -11.8, width: 1242, mainTop: 921, mainHeight: 282, oscTop: 1218, oscHeight: 71,
    min: 12407, max: 12466.8, ticks: usa30Ticks, decimals: 0,
    cciMin: -236, cciMax: 210, cciTicks: cciTicks,
    every: 8, dateLine: false, lineHeight: 14, barWidth: 3,
    price: usa30Price, kurzPad: 9,
    channel: [], red: usa30RedLines, cciRed: [],
    arrow: null
  }
];

const dashed = { color: '#8c8c8c', type: [3, 3], width: 1 };
const grids = [], xAxes = [], yAxes = [], series = [];

function segment(seg, times, color) {
  const [a, v1, b, v2] = seg;
  const style = { color: color, width: 1, type: 'solid' };
  return [
    { coord: [times[a], v1], lineStyle: style, label: { show: false } },
    { coord: [times[b], v2], lineStyle: style, label: { show: false } }
  ];
}

panels.forEach((p, k) => {
  const gMain = k * 2;
  const gOsc = k * 2 + 1;
  const frame = {
    show: true, borderColor: '#000', borderWidth: 1, backgroundColor: '#fff',
    containLabel: false, outerBoundsMode: 'none'
  };
  grids.push(Object.assign({ left: p.left, top: p.mainTop, width: p.width, height: p.mainHeight }, frame));
  grids.push(Object.assign({ left: p.left, top: p.oscTop, width: p.width, height: p.oscHeight }, frame));

  xAxes.push({
    gridIndex: gMain, type: 'category', data: p.times, boundaryGap: false,
    axisLine: { show: false, onZero: false }, axisTick: { show: false }, axisLabel: { show: false },
    splitLine: { show: true, interval: p.every - 1, lineStyle: dashed }
  });
  xAxes.push({
    gridIndex: gOsc, type: 'category', data: p.times, boundaryGap: false,
    axisLine: { show: true, onZero: false, lineStyle: { color: '#000', width: 3 } },
    axisTick: { show: true, interval: 0, length: 2, lineStyle: { color: '#000' } },
    axisLabel: {
      interval: p.every - 1, margin: 8, color: '#000', fontSize: 11, fontFamily: FONT,
      lineHeight: p.lineHeight,
      formatter: v => p.dateLine ? v + '\n10-01' : v
    },
    splitLine: { show: true, interval: p.every - 1, lineStyle: dashed }
  });

  yAxes.push({
    gridIndex: gMain, type: 'value', position: 'right', min: p.min, max: p.max, scale: true,
    axisLine: { show: false },
    axisTick: { show: true, length: 4, customValues: p.ticks, lineStyle: { color: '#000' } },
    axisLabel: {
      customValues: p.ticks, margin: 5, color: '#000', fontSize: 11, fontFamily: FONT,
      formatter: v => Number(v).toFixed(p.decimals)
    },
    splitLine: { show: true, lineStyle: dashed }
  });
  yAxes.push({
    gridIndex: gOsc, type: 'value', position: 'right', min: p.cciMin, max: p.cciMax,
    axisLine: { show: false },
    axisTick: { show: true, length: 4, customValues: p.cciTicks, lineStyle: { color: '#000' } },
    axisLabel: { customValues: p.cciTicks, margin: 5, color: '#000', fontSize: 10, fontFamily: FONT },
    splitLine: { show: true, lineStyle: dashed }
  });

  const priceText = p.price.toFixed(p.decimals);
  const mainLines = [];
  p.channel.forEach(s => mainLines.push(segment(s, p.times, '#000')));
  p.red.forEach(s => mainLines.push(segment(s, p.times, '#d0282c')));
  mainLines.push({
    yAxis: p.price,
    lineStyle: { color: '#deaede', width: 1, type: 'solid' },
    label: {
      show: true, position: 'insideStartTop', distance: 2, formatter: 'Aktuální prodejní kurz',
      color: '#707070', fontSize: 11, fontFamily: FONT, padding: [0, 0, 0, p.kurzPad]
    }
  });
  mainLines.push({
    yAxis: p.price,
    lineStyle: { color: '#deaede', width: 1, type: 'solid' },
    label: {
      show: true, position: 'end', distance: 4, formatter: priceText,
      color: '#333', fontSize: 11, fontFamily: FONT,
      backgroundColor: '#f5c6f5', borderColor: '#6c2f6c', borderWidth: 1, padding: [1, 2, 0, 2]
    }
  });

  series.push({
    type: 'candlestick', name: p.title, xAxisIndex: gMain, yAxisIndex: gMain,
    barWidth: p.barWidth,
    data: p.candles.map(c => c || ['-', '-', '-', '-']),
    itemStyle: {
      color: '#6f8f6f', color0: '#6e2c2c',
      borderColor: '#000', borderColor0: '#000', borderColorDoji: '#000', borderWidth: 1
    },
    markLine: { symbol: ['none', 'none'], silent: true, animation: false, data: mainLines }
  });

  const oscLines = cciLevels.map(v => ({
    yAxis: v, lineStyle: { color: '#8c8c8c', width: 1, type: 'solid' }, label: { show: false }
  }));
  p.cciRed.forEach(s => oscLines.push(segment(s, p.times, '#d0282c')));
  series.push({
    type: 'line', name: p.title + ' CCI', xAxisIndex: gOsc, yAxisIndex: gOsc,
    data: p.cci.map(v => v === null ? '-' : v),
    showSymbol: false, symbol: 'none',
    lineStyle: { color: '#2f7d2f', width: 1 },
    markLine: { symbol: ['none', 'none'], silent: true, animation: false, data: oscLines }
  });
});

const chart = echarts.init(document.getElementById('chart'));
chart.setOption({
  animation: false,
  backgroundColor: '#fff',
  textStyle: { fontFamily: FONT },
  grid: grids,
  xAxis: xAxes,
  yAxis: yAxes,
  series: series
});

// titles, indicator captions and the red arrows
const graphics = [
  // the second window hides the date row under the first chart
  { type: 'rect', shape: { x: 37, y: 434, width: 1323, height: 11 }, style: { fill: '#fff' }, z: 40 }
];
panels.forEach((p, k) => {
  graphics.push({
    type: 'text', x: p.titleX, y: p.titleY, z: 41,
    style: { text: p.title, font: '12px ' + FONT, fill: '#000', align: 'center', verticalAlign: 'middle' }
  });
  graphics.push({
    type: 'text', x: p.left + 1, y: p.mainTop + p.mainHeight + 7, z: 41,
    style: { text: 'Index komoditního kanálu (CCI) (14)', font: '10px ' + FONT, fill: '#000', align: 'left', verticalAlign: 'middle' }
  });
  if (p.arrow) {
    const [tx, ty] = chart.convertToPixel({ gridIndex: k * 2 }, [p.times[p.arrow[0]], p.arrow[1]]);
    const s = p.arrowSize;
    graphics.push({
      type: 'polygon', z: 50,
      shape: {
        points: [
          [tx, ty], [tx + s.hw, ty + s.hh], [tx + s.sw, ty + s.hh], [tx + s.sw, ty + s.len],
          [tx - s.sw, ty + s.len], [tx - s.sw, ty + s.hh], [tx - s.hw, ty + s.hh]
        ]
      },
      style: { fill: '#e51e25' }
    });
  }
});
chart.setOption({ graphic: graphics });
</script>
</body>
</html>
